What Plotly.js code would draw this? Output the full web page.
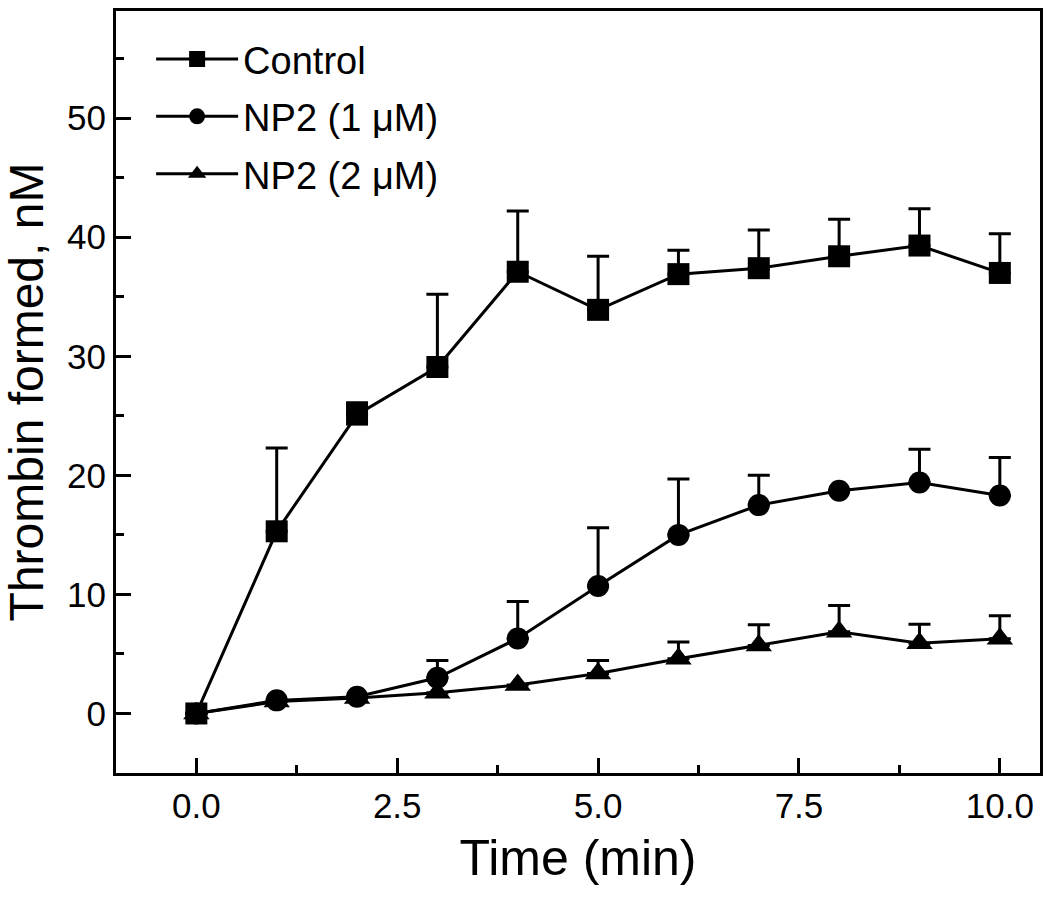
<!DOCTYPE html>
<html>
<head>
<meta charset="utf-8">
<script src="https://cdn.plot.ly/plotly-3.0.1.min.js"></script>
<style>html,body{margin:0;padding:0;background:#fff;}#chart{width:1050px;height:900px;}</style>
</head>
<body>
<div id="chart"></div>
<script>
const time = [0, 1, 2, 3, 4, 5, 6, 7, 8, 9, 10];
const seriesNames = ["Control", "NP2 (1 \u03bcM)", "NP2 (2 \u03bcM)"];
const control = [0, 15.3, 25.1, 29.1, 37.1, 33.9, 36.9, 37.4, 38.4, 39.3, 37.0];
const controlErr = [0, 7.0, 1.0, 6.1, 5.1, 4.5, 2.0, 3.2, 3.1, 3.1, 3.3];
const np2Low = [0, 1.1, 1.4, 3.0, 6.3, 10.7, 15.0, 17.5, 18.7, 19.4, 18.3];
const np2LowErr = [0, 0, 0, 1.45, 3.1, 4.9, 4.7, 2.5, 0, 2.8, 3.2];
const np2High = [0, 1.0, 1.3, 1.75, 2.4, 3.35, 4.6, 5.7, 6.86, 5.9, 6.27];
const np2HighErr = [0, 0, 0, 0, 0, 1.1, 1.4, 1.75, 2.2, 1.6, 1.93];
const xTickVals = [0, 2.5, 5, 7.5, 10];
const xTickText = ["0.0", "2.5", "5.0", "7.5", "10.0"];
const yTickVals = [0, 10, 20, 30, 40, 50];

const zeros = time.map(() => 0);
function makeTrace(name, y, err, symbol, size, rank) {
  return {
    type: 'scatter', mode: 'lines+markers', name: name, x: time, y: y,
    legendgroup: 'g' + rank, legendrank: rank,
    line: {color: '#000', width: 3},
    marker: {symbol: symbol, size: size, color: '#000'},
    error_y: {type: 'data', symmetric: false, array: err, arrayminus: zeros,
              color: '#000', thickness: 3, width: 11}
  };
}
const data = [
  makeTrace(seriesNames[2], np2High, np2HighErr, 'triangle-up', 23, 3),
  makeTrace(seriesNames[1], np2Low, np2LowErr, 'circle', 22, 2),
  makeTrace(seriesNames[0], control, controlErr, 'square', 22, 1)
];
const font = 'Liberation Sans, Arial, sans-serif';
const layout = {
  width: 1050, height: 900,
  margin: {l: 116, r: 10, t: 11, b: 127},
  paper_bgcolor: '#fff', plot_bgcolor: '#fff',
  font: {family: font, color: '#000'},
  showlegend: true,
  legend: {x: 0.038, y: 0.978, xanchor: 'left', yanchor: 'top',
           traceorder: 'grouped', tracegroupgap: 5,
           font: {size: 38, family: font, color: '#000'},
           itemwidth: 82, bgcolor: 'rgba(0,0,0,0)'},
  xaxis: {
    range: [-1, 10.5], showgrid: false, zeroline: false,
    showline: true, linecolor: '#000', linewidth: 3, mirror: true,
    tickmode: 'array', tickvals: xTickVals, ticktext: xTickText,
    ticks: 'inside', ticklen: 15, tickwidth: 3, tickcolor: '#000',
    minor: {dtick: 1.25, tick0: 0, ticks: 'inside', ticklen: 8, tickwidth: 3, tickcolor: '#000', showgrid: false},
    tickfont: {size: 35, family: font, color: '#000'},
    title: {text: 'Time (min)', font: {size: 50, family: font, color: '#000'}, standoff: 16}
  },
  yaxis: {
    range: [-5, 59], showgrid: false, zeroline: false,
    showline: true, linecolor: '#000', linewidth: 3, mirror: true,
    tickmode: 'array', tickvals: yTickVals,
    ticks: 'inside', ticklen: 15, tickwidth: 3, tickcolor: '#000',
    minor: {dtick: 10, tick0: 5, ticks: 'inside', ticklen: 8, tickwidth: 3, tickcolor: '#000', showgrid: false},
    tickfont: {size: 35, family: font, color: '#000'},
    title: {text: 'Thrombin formed, nM', font: {size: 48, family: font, color: '#000'}, standoff: 12}
  }
};
Plotly.newPlot('chart', data, layout, {displayModeBar: false, staticPlot: true});
</script>
</body>
</html>
